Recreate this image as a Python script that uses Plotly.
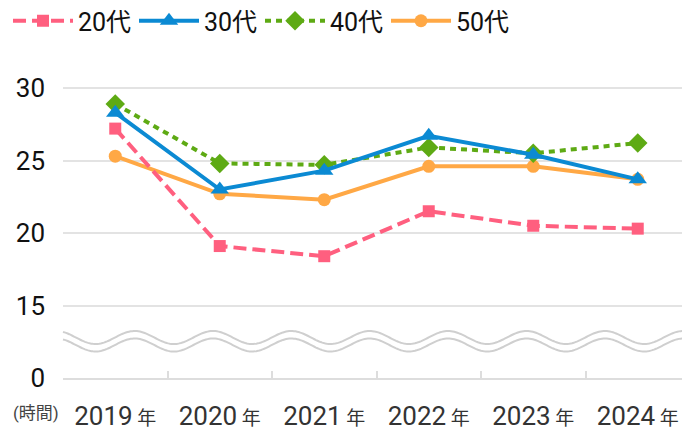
import numpy as np
import plotly.graph_objects as go

years = ["2019年", "2020年", "2021年", "2022年", "2023年", "2024年"]
year_nums = ["2019", "2020", "2021", "2022", "2023", "2024"]
s20 = [27.2, 19.1, 18.4, 21.5, 20.5, 20.3]
s30 = [28.3, 23.0, 24.3, 26.7, 25.4, 23.7]
s40 = [28.9, 24.8, 24.7, 25.9, 25.5, 26.2]
s50 = [25.3, 22.7, 22.3, 24.6, 24.6, 23.7]
series_names = ["20代", "30代", "40代", "50代"]

# axis break: displayed "0" sits at position 10
ytick_vals = [10, 15, 20, 25, 30]
ytick_text = ["0", "15", "20", "25", "30"]

FONT = "Roboto, 'Noto Sans CJK JP', sans-serif"
colors = ["#FF5F7F", "#0B8AD3", "#5EAA14", "#FFA845"]
symbols = ["square", "triangle-up", "diamond", "circle"]
sizes = [12, 16, 15, 13]
dashes = ["13px,6px", "solid", "6px,5px", "solid"]

# page body has an 8px margin; compensate so the plot lands where it should
OFF = 8
W, H = 690, 436
PL, PR, PT, PB = 60, 690, 60, 378  # plot area in page pixels
px_per_unit = 14.5
plot_h = PB - PT

fig = go.Figure()
for name, vals, c, sym, sz, d in [
    (series_names[3], s50, colors[3], symbols[3], sizes[3], dashes[3]),
    (series_names[0], s20, colors[0], symbols[0], sizes[0], dashes[0]),
    (series_names[2], s40, colors[2], symbols[2], sizes[2], dashes[2]),
    (series_names[1], s30, colors[1], symbols[1], sizes[1], dashes[1]),
]:
    fig.add_trace(go.Scatter(
        x=years, y=vals, name=name, mode="lines+markers",
        line=dict(color=c, width=4, dash=d),
        marker=dict(color=c, symbol=sym, size=sz),
        cliponaxis=False,
    ))

# wavy break lines (decoration)
xs = np.linspace(0, 1, 400)
px = PL + xs * (PR - PL)
amp = 6.5 / px_per_unit
for center_px in (337.5, 345.0):
    c = 10 + (PB - center_px) / px_per_unit
    ys = c + amp * np.cos(2 * np.pi * (px - 132) / 78.75)
    path = "M " + " L ".join(f"{a:.4f},{b:.4f}" for a, b in zip(xs, ys))
    fig.add_shape(type="path", path=path, xref="paper", yref="y",
                  line=dict(color="#CFCFCF", width=2), layer="below")

fig.add_annotation(text="(時間)", xref="paper", yref="paper",
                   x=(8 - PL) / (PR - PL), y=-(413 - PB) / plot_h, xanchor="left",
                   yanchor="middle", showarrow=False,
                   font=dict(family=FONT, size=17, color="#444444"))

xt_text = [f"{n}<span style='font-size:19px'> 年</span>" for n in year_nums]

fig.update_layout(
    width=W, height=H,
    margin=dict(l=PL - OFF, r=W - (PR - OFF), t=PT - OFF, b=H - (PB - OFF)),
    paper_bgcolor="white", plot_bgcolor="white",
    font=dict(family=FONT, color="#222222"),
    legend=dict(orientation="h", xref="container", x=(1 - OFF) / W, xanchor="left",
                yref="container", y=1 - (21 - OFF) / H, yanchor="middle",
                font=dict(size=25, color="#111111"),
                itemwidth=60, traceorder="normal", entrywidth=51,
                bgcolor="rgba(0,0,0,0)"),
    xaxis=dict(type="category", range=[-0.5, 5.5], tickson="boundaries",
               ticks="inside", ticklen=7, tickwidth=2, tickcolor="#DDDDDD",
               showline=True, linecolor="#DDDDDD", linewidth=2,
               showgrid=False, tickmode="array", tickvals=years, ticktext=xt_text,
               tickfont=dict(size=26, color="#333333"), ticklabelstandoff=14),
    yaxis=dict(range=[10, 10 + plot_h / px_per_unit], tickvals=ytick_vals, ticktext=ytick_text,
               showgrid=True, gridcolor="#E3E3E3", gridwidth=2,
               zeroline=False, showline=False, ticks="",
               tickfont=dict(size=26, color="#111111"), ticklabelstandoff=17),
)

order = {n: i for i, n in enumerate(series_names)}
for tr in fig.data:
    tr.legendrank = order[tr.name] + 1

fig.write_html("out.html")
